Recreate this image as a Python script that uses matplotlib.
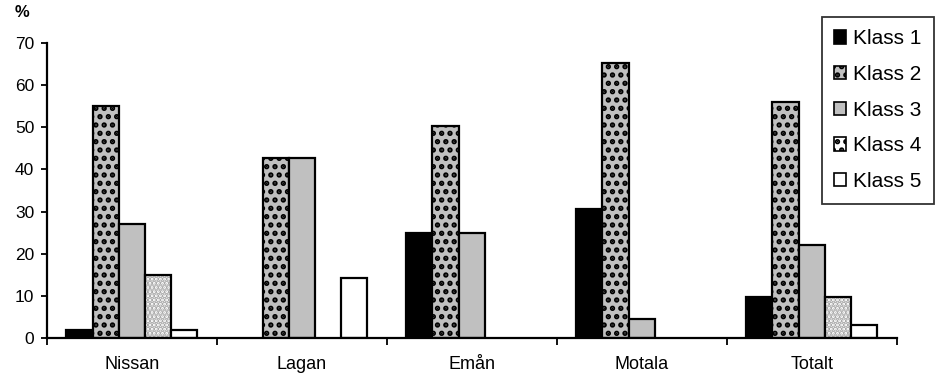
import numpy as np
import matplotlib.pyplot as plt
from matplotlib.patches import Patch

plt.rcParams['font.family'] = ['Liberation Sans', 'DejaVu Sans']
plt.rcParams['hatch.linewidth'] = 2.6

# Data
rivers = ['Nissan', 'Lagan', 'Emån', 'Motala', 'Totalt']
classes = ['Klass 1', 'Klass 2', 'Klass 3', 'Klass 4', 'Klass 5']
klass1 = [1.8, 0, 25.0, 30.5, 9.7]
klass2 = [55.0, 42.8, 50.2, 65.2, 56.0]
klass3 = [27.0, 42.8, 25.0, 4.4, 22.0]
klass4 = [15.0, 0, 0, 0, 9.8]
klass5 = [1.8, 14.2, 0, 0, 3.0]
values = [klass1, klass2, klass3, klass4, klass5]

# styling: (facecolor, hatch, hatch colour)
styles = [
    ('black', None, None),
    ('#c0c0c0', '..', 'black'),
    ('#c0c0c0', None, None),
    ('white', '....', '#a8a8a8'),
    ('white', None, None),
]

fig = plt.figure(figsize=(9.36, 3.76), dpi=100)
ax = fig.add_axes([0.050, 0.101, 0.908, 0.785])

x = np.arange(len(rivers))
w = 0.154
for k, (vals, (fc, hatch, hc)) in enumerate(zip(values, styles)):
    pos = x + (k - 2) * w
    vals = [v if v > 0 else np.nan for v in vals]
    if hatch:
        ax.bar(pos, vals, w, color=fc, edgecolor=hc, hatch=hatch, linewidth=0)
        ax.bar(pos, vals, w, color='none', edgecolor='black', linewidth=1.6)
    else:
        ax.bar(pos, vals, w, color=fc, edgecolor='black', linewidth=1.6)

ax.set_xlim(-0.5, len(rivers) - 0.5)
ax.set_ylim(0, 70)
ax.set_yticks(np.arange(0, 71, 10))
ax.tick_params(axis='y', labelsize=12.5, length=4, width=1.3, pad=5)

ax.set_xticks(x)
ax.set_xticklabels(rivers, fontsize=13)
ax.tick_params(axis='x', length=0, pad=13)
ax.set_xticks(np.arange(-0.5, len(rivers)), minor=True)
ax.tick_params(axis='x', which='minor', length=5, width=1.3, direction='out')

for s in ['top', 'right']:
    ax.spines[s].set_visible(False)
for s in ['left', 'bottom']:
    ax.spines[s].set_linewidth(1.6)

fig.text(0.016, 0.968, '%', fontsize=12, fontweight='bold', va='center')

handles = []
for (fc, hatch, hc) in styles:
    if hatch:
        handles.append(Patch(facecolor=fc, edgecolor='black', hatch='..', linewidth=1.2))
    else:
        handles.append(Patch(facecolor=fc, edgecolor='black', linewidth=1.2))
leg = fig.legend(handles, classes, loc='upper left', bbox_to_anchor=(0.878, 0.955),
                 fontsize=15, frameon=True, fancybox=False, edgecolor='black',
                 handlelength=0.55, handleheight=0.6, handletextpad=0.35,
                 labelspacing=0.8, borderpad=0.6, borderaxespad=0)
leg.get_frame().set_linewidth(1.3)

fig.savefig('out.png', dpi=100)
